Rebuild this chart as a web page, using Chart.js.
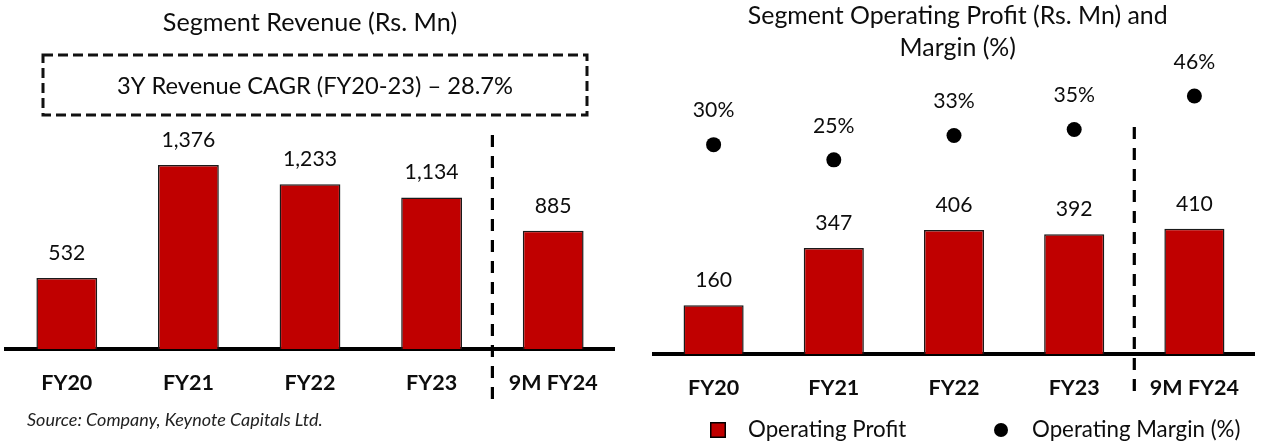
<!DOCTYPE html>
<html>
<head>
<meta charset="utf-8">
<script src="https://cdn.jsdelivr.net/npm/chart.js@4.4.1/dist/chart.umd.min.js"></script>
<style>
  html, body { margin: 0; padding: 0; background: #ffffff; }
  #wrap { position: relative; width: 1262px; height: 443px; overflow: hidden; background: #ffffff; }
  #left { position: absolute; left: 0; top: 0; }
  #right { position: absolute; left: 630px; top: 0; }
</style>
</head>
<body>
<div id="wrap">
  <canvas id="left" width="630" height="443"></canvas>
  <canvas id="right" width="632" height="443"></canvas>
</div>
<script>
// ---------- DATA ----------
const categories = ['FY20', 'FY21', 'FY22', 'FY23', '9M FY24'];
const revenue = [532, 1376, 1233, 1134, 885];
const opProfit = [160, 347, 406, 392, 410];
const opMargin = [30, 25, 33, 35, 46];

const leftTitle = 'Segment Revenue (Rs. Mn)';
const cagrText = '3Y Revenue CAGR (FY20-23) \u2013 28.7%';
const sourceText = 'Source: Company, Keynote Capitals Ltd.';
const rightTitle = ['Segment Operating Profit (Rs. Mn) and', 'Margin (%)'];
const seriesNames = ['Operating Profit', 'Operating Margin (%)'];

// ---------- STYLE ----------
const FONT = 'Lato';
const RED = '#C00000';
const INK = '#0d0d0d';
const mctx = document.createElement('canvas').getContext('2d');
function fitSize(text, target, style) {
  mctx.font = (style || '') + ' 100px ' + FONT;
  return Math.round(1000 * target / mctx.measureText(text).width) / 10;
}
const titleSize = fitSize(leftTitle, 294, '');
const rTitleSize = fitSize(rightTitle[0], 420, '');
const cagrSize = fitSize(cagrText, 396, '');
const valSize = fitSize('1,376', 54, '');
const tickSize = fitSize('9M FY24', 89, 'bold');
const srcSize = fitSize(sourceText, 295, 'italic');
const legSize = fitSize(seriesNames[0], 158, '');
const fmt = v => v.toLocaleString('en-US');

// ---------- PLUGINS ----------
const valueLabels = {
  id: 'valueLabels',
  afterDatasetsDraw(chart, args, opts) {
    const ctx = chart.ctx;
    ctx.save();
    ctx.font = valSize + 'px ' + FONT;
    ctx.fillStyle = INK;
    ctx.textAlign = 'center';
    ctx.textBaseline = 'middle';
    chart.data.datasets.forEach((ds, di) => {
      const meta = chart.getDatasetMeta(di);
      meta.data.forEach((el, i) => {
        const txt = opts.format[di](ds.data[i]);
        ctx.fillText(txt, el.x, el.y - opts.offset[di]);
      });
    });
    ctx.restore();
  }
};

const divider = {
  id: 'divider',
  afterDraw(chart, args, opts) {
    const xs = chart.scales.x;
    const x = (xs.getPixelForTick(3) + xs.getPixelForTick(4)) / 2;
    const ctx = chart.ctx;
    ctx.save();
    ctx.strokeStyle = '#000';
    ctx.lineWidth = 3.2;
    ctx.setLineDash([12, 9]);
    ctx.beginPath();
    ctx.moveTo(x, opts.top);
    ctx.lineTo(x, opts.bottom);
    ctx.stroke();
    ctx.restore();
  }
};

const cagrBox = {
  id: 'cagrBox',
  afterDraw(chart, args, opts) {
    const ctx = chart.ctx;
    ctx.save();
    ctx.strokeStyle = '#111';
    ctx.lineWidth = 3;
    ctx.setLineDash([10, 5]);
    ctx.strokeRect(opts.x, opts.y, opts.w, opts.h);
    ctx.setLineDash([]);
    ctx.font = cagrSize + 'px ' + FONT;
    ctx.fillStyle = INK;
    ctx.textAlign = 'center';
    ctx.textBaseline = 'middle';
    ctx.fillText(cagrText, opts.x + opts.w / 2, opts.y + opts.h / 2 + 1);
    // source note
    ctx.font = 'italic ' + srcSize + 'px ' + FONT;
    ctx.textAlign = 'left';
    ctx.fillStyle = '#222';
    ctx.fillText(sourceText, opts.srcX, opts.srcY);
    ctx.restore();
  }
};

const dotIcon = {
  id: 'customLegend',
  afterDraw(chart, args, opts) {
    const ctx = chart.ctx;
    const ds = chart.data.datasets;
    const y = opts.y;
    ctx.save();
    // square for bars
    ctx.fillStyle = ds[0].backgroundColor;
    ctx.fillRect(opts.x0, y - 8, 16, 16);
    ctx.strokeStyle = '#000';
    ctx.lineWidth = 1.5;
    ctx.strokeRect(opts.x0 + 0.75, y - 7.25, 14.5, 14.5);
    // dot for margin
    ctx.fillStyle = ds[1].pointBackgroundColor;
    ctx.beginPath();
    ctx.arc(opts.x1, y, 7, 0, Math.PI * 2);
    ctx.fill();
    ctx.font = legSize + 'px ' + FONT;
    ctx.fillStyle = INK;
    ctx.textAlign = 'left';
    ctx.textBaseline = 'middle';
    ctx.fillText(ds[0].label, opts.x0 + 38, y);
    ctx.fillText(ds[1].label, opts.x1 + 31, y);
    ctx.restore();
  }
};

const xAxis = {
  type: 'category',
  offset: true,
  grid: { display: false, drawTicks: false },
  border: { display: true, color: '#000', width: 4 },
  ticks: {
    color: INK,
    padding: 21,
    font: { family: FONT, size: tickSize, weight: 'bold', lineHeight: 1.2 }
  }
};

// ---------- LEFT CHART ----------
new Chart(document.getElementById('left'), {
  type: 'bar',
  data: {
    labels: categories,
    datasets: [{
      label: 'Segment Revenue',
      data: revenue,
      backgroundColor: RED,
      borderColor: '#1a1a1a',
      borderWidth: 1.5,
      categoryPercentage: 1,
      barPercentage: 0.5
    }]
  },
  options: {
    responsive: false,
    animation: false,
    layout: { padding: { left: 6, right: 16, top: 0, bottom: 26 } },
    scales: {
      x: xAxis,
      y: { display: false, min: 0, max: 1600 }
    },
    plugins: {
      legend: { display: false },
      tooltip: { enabled: false },
      title: {
        display: true,
        text: leftTitle,
        color: INK,
        font: { family: FONT, size: titleSize, weight: 'normal', lineHeight: 1.2 },
        padding: { top: 23 - titleSize * 0.6, bottom: 135 - (23 + titleSize * 0.6) }
      },
      valueLabels: { offset: [25], format: [fmt] },
      divider: { top: 135, bottom: 405 },
      cagrBox: { x: 43, y: 55, w: 544, h: 60, srcX: 27, srcY: 420 }
    }
  },
  plugins: [valueLabels, divider, cagrBox]
});

// ---------- RIGHT CHART ----------
new Chart(document.getElementById('right'), {
  data: {
    labels: categories,
    datasets: [{
      type: 'bar',
      label: seriesNames[0],
      data: opProfit,
      yAxisID: 'y',
      backgroundColor: RED,
      borderColor: '#1a1a1a',
      borderWidth: 1.5,
      categoryPercentage: 1,
      barPercentage: 0.5,
      order: 2
    }, {
      type: 'line',
      label: seriesNames[1],
      data: opMargin,
      yAxisID: 'y1',
      showLine: false,
      pointRadius: 7.5,
      pointBackgroundColor: '#000',
      pointBorderWidth: 0,
      order: 1
    }]
  },
  options: {
    responsive: false,
    animation: false,
    layout: { padding: { left: 23.5, right: 0, top: 0, bottom: 21 } },
    scales: {
      x: xAxis,
      y: { display: false, min: 0, max: 912 },
      y1: { display: false, min: -38.9, max: 52.9 }
    },
    plugins: {
      legend: { display: false },
      tooltip: { enabled: false },
      title: {
        display: true,
        text: rightTitle,
        color: INK,
        font: { family: FONT, size: rTitleSize, weight: 'normal', lineHeight: '32px' },
        padding: { top: 0, bottom: 11 }
      },
      valueLabels: { offset: [25, 34], format: [fmt, v => v + '%'] },
      divider: { top: 127, bottom: 400 },
      customLegend: { y: 430, x0: 80, x1: 371 }
    }
  },
  plugins: [valueLabels, divider, dotIcon]
});
</script>
</body>
</html>
